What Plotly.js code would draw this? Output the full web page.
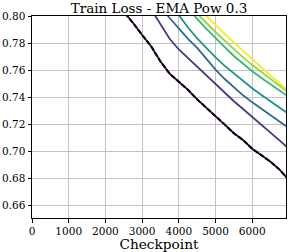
<!DOCTYPE html>
<html><head><meta charset="utf-8">
<script src="https://cdn.plot.ly/plotly-3.0.1.min.js"></script>
<style>html,body{margin:0;padding:0;background:#fff}</style>
</head><body><div id="chart" style="width:289px;height:252px"></div>
<script>
const checkpoints = [2000,2250,2500,2750,3000,3250,3500,3750,4000,4250,4500,4750,5000,5250,5500,5750,6000,6250,6500,6750,7000];
const lossRaw = [0.835,0.818,0.803,0.795,0.786,0.7775,0.7665,0.7575,0.7515,0.7455,0.7385,0.7325,0.7265,0.7199,0.7135,0.7085,0.7021,0.6975,0.6925,0.6865,0.679];
const ema1 = [0.835,0.818,0.803,0.795,0.786,0.7775,0.7665,0.7575,0.7515,0.7455,0.7385,0.7325,0.7265,0.7199,0.7135,0.7085,0.7021,0.6975,0.6925,0.6865,0.679];
const ema2 = [0.87,0.855,0.84,0.827,0.8155,0.8045,0.7935,0.7832,0.7753,0.769,0.7626,0.7561,0.7496,0.7431,0.7371,0.7314,0.7257,0.72,0.7141,0.7081,0.702];
const ema3 = [0.88,0.866,0.852,0.838,0.825,0.8145,0.807,0.7985,0.7905,0.7832,0.7765,0.7682,0.7605,0.7535,0.7472,0.7415,0.7363,0.7315,0.7266,0.722,0.7172];
const ema4 = [0.89,0.877,0.864,0.851,0.839,0.827,0.8165,0.8075,0.8007,0.7915,0.7835,0.7762,0.7695,0.7632,0.7575,0.752,0.7467,0.7418,0.7372,0.7325,0.7275];
const ema5 = [0.885,0.875,0.865,0.855,0.846,0.837,0.829,0.821,0.813,0.8053,0.7978,0.7905,0.7835,0.777,0.7705,0.7645,0.7592,0.7542,0.7493,0.7448,0.7403];
const ema6 = [0.888,0.878,0.868,0.858,0.849,0.84,0.832,0.8235,0.8155,0.8085,0.8015,0.7948,0.7882,0.7818,0.7755,0.7695,0.7638,0.7585,0.7533,0.7483,0.7433];
const ema7 = [0.892,0.882,0.872,0.862,0.853,0.844,0.836,0.828,0.8205,0.8135,0.8067,0.7999,0.7933,0.7868,0.7805,0.7742,0.768,0.762,0.756,0.7502,0.7443];
const xTicks = [0,1000,2000,3000,4000,5000,6000];
const yTicks = [0.66,0.68,0.70,0.72,0.74,0.76,0.78,0.80];

const colors = ['#440154','#443a83','#31688e','#21918c','#35b779','#90d743','#fde725'];
const series = [ema1,ema2,ema3,ema4,ema5,ema6,ema7];
const traces = series.map((s,i)=>({x:checkpoints,y:s,mode:'lines',type:'scatter',line:{color:colors[i],width:1.8},showlegend:false,hoverinfo:'skip'}));
traces.push({x:checkpoints,y:lossRaw,mode:'lines',type:'scatter',line:{color:'#000',width:2,dash:'5px,2px'},showlegend:false,hoverinfo:'skip'});

const font = '"DejaVu Serif", serif';
const layout = {
  width:289,height:252,
  margin:{l:32,r:3,t:16,b:34},
  paper_bgcolor:'#fff',plot_bgcolor:'#fff',
  font:{family:font,size:10.5,color:'#000'},
  title:{text:'Train Loss - EMA Pow 0.3',font:{family:font,size:13.5,color:'#000'},x:0.5,xanchor:'center',xref:'paper',yref:'paper',y:1,yanchor:'bottom',pad:{b:3}},
  xaxis:{range:[0,6920],tickvals:xTicks,ticktext:xTicks.map(String),showgrid:true,gridcolor:'#c4c4c4',gridwidth:1,
    showline:true,linecolor:'#000',linewidth:1,mirror:true,ticks:'outside',ticklen:3.5,tickcolor:'#000',zeroline:false,
    title:{text:'Checkpoint',font:{family:font,size:13.7,color:'#000'},standoff:2},tickfont:{family:font,size:10.5}},
  yaxis:{range:[0.651,0.80],tickvals:yTicks,ticktext:yTicks.map(v=>v.toFixed(2)),showgrid:true,gridcolor:'#c4c4c4',gridwidth:1,
    showline:true,linecolor:'#000',linewidth:1,mirror:true,ticks:'outside',ticklen:3.5,tickcolor:'#000',zeroline:false,
    tickfont:{family:font,size:10.5}}
};
Plotly.newPlot('chart',traces,layout,{staticPlot:true,displayModeBar:false});
</script></body></html>
